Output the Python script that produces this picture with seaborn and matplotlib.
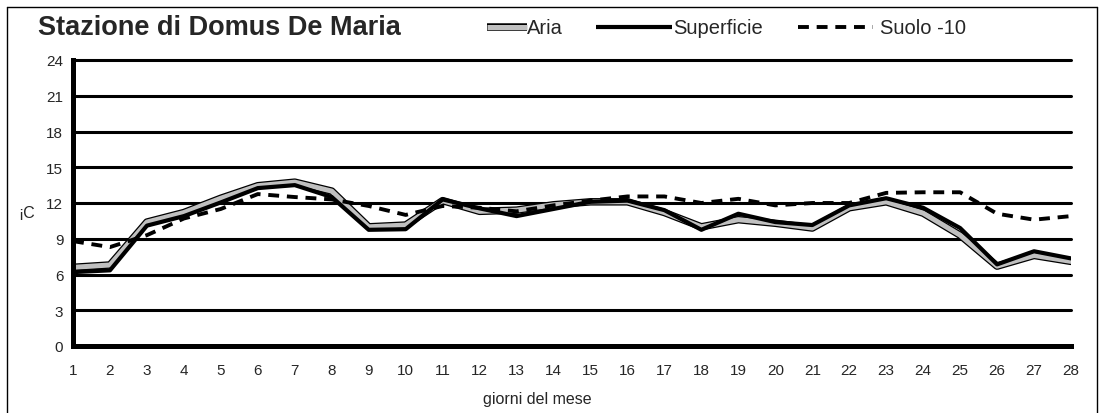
import numpy as np
import pandas as pd
import matplotlib
matplotlib.use("Agg")
import matplotlib.pyplot as plt
import matplotlib.patheffects as pe
from matplotlib.lines import Line2D
import seaborn as sns

# values (degrees C)
giorni = list(range(1, 29))
aria = [6.6, 6.8, 10.4, 11.2, 12.4, 13.45, 13.75, 13.0, 10.0, 10.15,
        12.2, 11.3, 11.4, 11.85, 12.1, 12.1, 11.2, 10.0, 10.6, 10.3,
        9.9, 11.6, 12.1, 11.15, 9.3, 6.7, 7.6, 7.1]
superficie = [6.2, 6.35, 10.1, 10.9, 12.05, 13.25, 13.5, 12.5, 9.75, 9.8,
              12.3, 11.55, 10.9, 11.5, 12.1, 12.2, 11.4, 9.75, 11.1, 10.4,
              10.15, 11.8, 12.4, 11.6, 9.9, 6.85, 7.95, 7.35]
suolo = [8.8, 8.3, 9.3, 10.7, 11.5, 12.75, 12.5, 12.3, 11.75, 11.0,
         11.75, 11.6, 11.3, 11.8, 12.2, 12.55, 12.55, 12.0, 12.35, 11.8,
         12.0, 12.0, 12.85, 12.9, 12.9, 11.1, 10.6, 10.9]
y_ticks = [0, 3, 6, 9, 12, 15, 18, 21, 24]

df = pd.DataFrame({"giorno": giorni, "Aria": aria,
                   "Superficie": superficie, "Suolo -10": suolo})

sns.set_style("white")
plt.rcParams["font.family"] = ["Liberation Sans", "DejaVu Sans"]

W, H = 1103, 414
fig = plt.figure(figsize=(W / 100, H / 100), dpi=100)
ax = fig.add_axes([73 / W, 1 - 347 / H, 998 / W, 286 / H])

# outer frame of the chart area
fig.add_artist(Line2D([7 / W, 7 / W], [-0.1, 1 - 8 / H], color="black", lw=1))
fig.add_artist(Line2D([7 / W, 1097 / W], [1 - 8 / H, 1 - 8 / H], color="black", lw=1))
fig.add_artist(Line2D([1097 / W, 1097 / W], [-0.1, 1 - 8 / H], color="black", lw=1))

outline = [pe.Stroke(linewidth=5.4, foreground="black"), pe.Normal()]
sns.lineplot(data=df, x="giorno", y="Aria", ax=ax, color="#c0c0c0", lw=3.6,
             path_effects=outline, zorder=3)
sns.lineplot(data=df, x="giorno", y="Superficie", ax=ax, color="black", lw=3.0, zorder=4)
sns.lineplot(data=df, x="giorno", y="Suolo -10", ax=ax, color="black", lw=2.8,
             dashes=(2.8, 2.0), zorder=5)

ax.set_xlim(1, 28)
ax.set_ylim(0, 24)
ax.set_xticks(giorni)
ax.set_yticks(y_ticks)
for v in y_ticks[1:]:
    ax.axhline(v, color="black", lw=2.2, zorder=1, clip_on=False)

for s in ["top", "right"]:
    ax.spines[s].set_visible(False)
for s in ["left", "bottom"]:
    ax.spines[s].set_linewidth(3.6)
    ax.spines[s].set_color("black")
    ax.spines[s].set_zorder(6)

ax.tick_params(axis="x", direction="inout", length=9, width=3.6, pad=8,
               labelsize=11, color="black")
ax.tick_params(axis="y", direction="out", length=5, width=3.6, pad=2,
               labelsize=11, color="black")

ax.set_xlabel("giorni del mese", fontsize=11.5, va="center")
ax.xaxis.set_label_coords((537 - 73) / 998, -(400 - 347) / 286)
ax.set_ylabel("¡C", fontsize=11.5, rotation=0, va="center")
ax.yaxis.set_label_coords((27 - 73) / 998, (347 - 214) / 286)

# title and hand-placed legend across the top
fig.text(38 / W, 1 - 28 / H, "Stazione di Domus De Maria", fontsize=19.5,
         fontweight="bold", va="center", ha="left")
ly = 1 - 28 / H
aria_leg = Line2D([487 / W, 527 / W], [ly, ly], color="#c0c0c0", lw=3.6,
                  solid_capstyle="butt",
                  path_effects=[pe.Stroke(linewidth=5.4, foreground="black",
                                          capstyle="butt"), pe.Normal()])
fig.add_artist(aria_leg)
fig.text(527 / W, ly, "Aria", fontsize=14.5, va="center", ha="left")
fig.add_artist(Line2D([596 / W, 672 / W], [ly, ly], color="black", lw=3.0,
                      solid_capstyle="butt"))
fig.text(673 / W, ly, "Superficie", fontsize=14.5, va="center", ha="left")
fig.add_artist(Line2D([798 / W, 873 / W], [ly, ly], color="black", lw=2.8,
                      dashes=(2.8, 2.0)))
fig.text(880 / W, ly, "Suolo -10", fontsize=14.5, va="center", ha="left")

fig.savefig("out.png", dpi=100)
